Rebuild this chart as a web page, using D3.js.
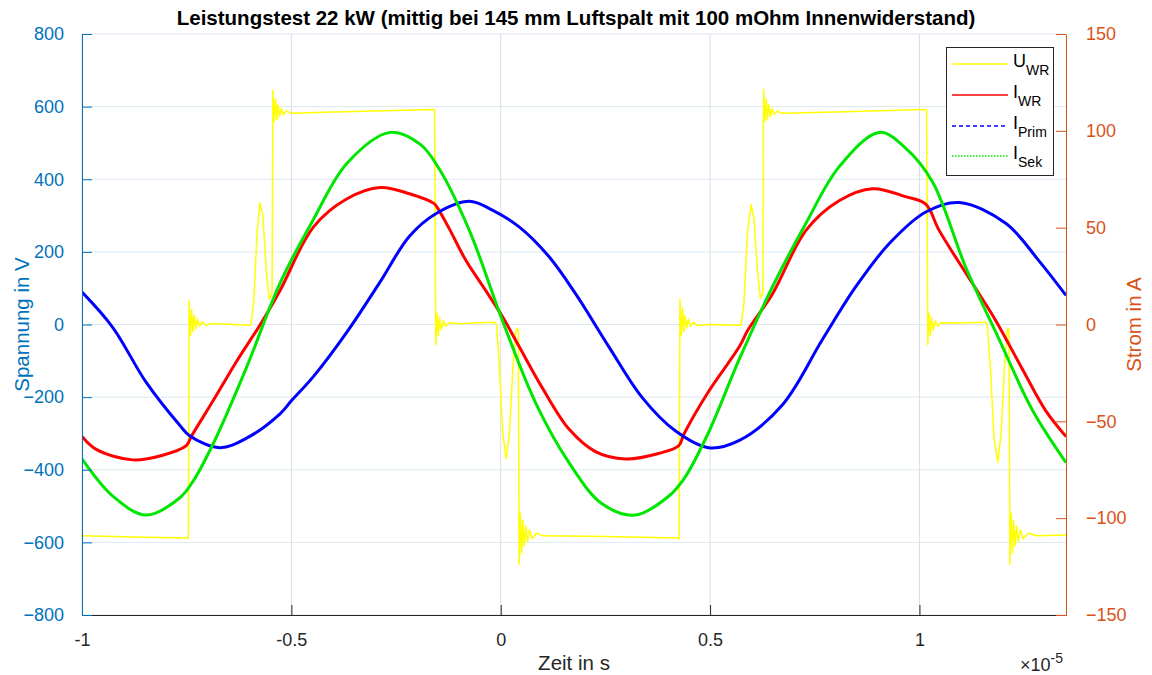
<!DOCTYPE html>
<html><head><meta charset="utf-8">
<script src="https://cdn.jsdelivr.net/npm/d3@7"></script>
<style>body{margin:0;background:#fff;} svg{display:block;font-family:"Liberation Sans",Arial,sans-serif;}</style>
</head><body>
<svg id="c" width="1152" height="675"></svg>
<script>
// ---- data (time in 1e-5 s) ----
const xTicks = [-1, -0.5, 0, 0.5, 1];
const xTickLabels = ["-1", "-0.5", "0", "0.5", "1"];
const yLeftTicks = [-800, -600, -400, -200, 0, 200, 400, 600, 800];
const yRightTicks = [-150, -100, -50, 0, 50, 100, 150];
const legendLabels = [["U","WR"],["I","WR"],["I","Prim"],["I","Sek"]];
const title = "Leistungstest 22 kW (mittig bei 145 mm Luftspalt mit 100 mOhm Innenwiderstand)";

// U_WR in V  [t, V]
const uWR = [
 [-1,-582],[-0.85,-586],[-0.748,-588],
 [-0.746,-588],[-0.744,65],[-0.741,-30],[-0.738,40],[-0.735,-20],[-0.732,25],[-0.728,-12],[-0.724,15],[-0.719,-5],[-0.713,8],[-0.705,-2],[-0.69,3],[-0.60,-2],
 [-0.597,-2],[-0.590,60],[-0.582,250],[-0.575,335],[-0.568,300],[-0.560,150],[-0.553,70],[-0.548,80],
 [-0.546,90],[-0.544,645],[-0.541,560],[-0.538,620],[-0.535,565],[-0.532,605],[-0.528,572],[-0.524,595],[-0.519,578],[-0.512,588],[-0.500,582],[-0.40,585],[-0.30,588],[-0.162,592],
 [-0.158,590],[-0.155,-56],[-0.152,30],[-0.149,-30],[-0.146,20],[-0.142,-15],[-0.137,10],[-0.131,-5],[-0.124,5],[-0.10,2],[-0.05,5],[-0.014,6],
 [-0.010,0],[-0.003,-120],[0.005,-300],[0.013,-370],[0.021,-300],[0.029,-120],[0.036,-20],[0.040,-10],
 [0.042,-20],[0.044,-660],[0.047,-520],[0.050,-630],[0.053,-540],[0.056,-610],[0.060,-555],[0.064,-598],[0.069,-565],[0.075,-590],[0.085,-575],[0.10,-582],[0.25,-584],[0.42,-588],
 [0.426,-590],[0.428,70],[0.431,-30],[0.434,45],[0.437,-20],[0.440,25],[0.444,-10],[0.448,15],[0.453,-5],[0.46,6],[0.47,-3],[0.50,0],[0.57,-2],
 [0.574,-2],[0.581,60],[0.589,250],[0.598,330],[0.605,290],[0.613,150],[0.620,73],[0.624,80],
 [0.626,90],[0.628,648],[0.631,560],[0.634,620],[0.637,565],[0.640,605],[0.644,572],[0.648,595],[0.653,578],[0.66,588],[0.67,582],[0.80,585],[1.013,592],
 [1.017,590],[1.020,-56],[1.023,30],[1.026,-30],[1.029,20],[1.033,-15],[1.038,10],[1.044,-5],[1.05,5],[1.10,4],[1.158,6],
 [1.162,0],[1.170,-130],[1.178,-310],[1.187,-380],[1.195,-300],[1.203,-120],[1.209,-20],[1.212,-10],
 [1.214,-20],[1.216,-660],[1.219,-520],[1.222,-630],[1.225,-540],[1.228,-610],[1.232,-555],[1.236,-598],[1.241,-565],[1.247,-590],[1.26,-575],[1.28,-582],[1.35,-580]
];
// I_WR in A [t, A]
const iWR = [
 [-1,-57.8],[-0.966,-64.5],[-0.879,-69.9],[-0.807,-67.5],[-0.751,-62.6],[-0.739,-57.8],[-0.687,-39.4],[-0.631,-19.1],[-0.571,1.1],[-0.527,17.6],[-0.447,50.4],[-0.367,64.9],[-0.288,70.7],[-0.218,67.5],[-0.159,62.4],[-0.151,60.2],[-0.123,49.5],[-0.083,33.0],[-0.036,17.6],[0.004,4.1],[0.044,-11.4],[0.099,-32.6],[0.163,-54.0],[0.226,-65.6],[0.298,-69.4],[0.377,-66.6],[0.425,-62.6],[0.437,-56.8],[0.496,-34.7],[0.570,-11.4],[0.591,-2.6],[0.649,15.8],[0.729,48.6],[0.808,63.9],[0.888,70.1],[0.967,66.0],[1.015,62.1],[1.047,48.6],[1.126,21.4],[1.182,2.1],[1.246,-23.1],[1.301,-44.3],[1.35,-57.8]
];
// I_Prim in A
const iPrim = [
 [-1,16.7],[-0.926,-1.7],[-0.847,-29.8],[-0.767,-51.9],[-0.743,-57.4],[-0.671,-63.6],[-0.607,-58.7],[-0.527,-46.1],[-0.5,-39.4],[-0.447,-26.8],[-0.367,-3.8],[-0.288,22.0],[-0.218,45.6],[-0.155,57.2],[-0.075,63.6],[-0.02,59.1],[0.044,50.4],[0.115,35.1],[0.179,15.8],[0.258,-11.4],[0.337,-37.5],[0.417,-54.9],[0.496,-63.6],[0.570,-59.8],[0.673,-41.4],[0.769,-7.5],[0.848,19.5],[0.928,41.8],[1.015,58.1],[1.095,63.0],[1.206,52.3],[1.285,33.0],[1.35,15.0]
];
// I_Sek in A
const iSek = [
 [-1,-69.4],[-0.926,-88.7],[-0.847,-98.4],[-0.767,-89.6],[-0.735,-81.0],[-0.687,-61.7],[-0.607,-22.1],[-0.527,21.4],[-0.447,54.4],[-0.367,83.3],[-0.264,99.2],[-0.192,93.0],[-0.147,80.4],[-0.075,48.6],[0.004,2.1],[0.083,-40.3],[0.163,-71.3],[0.242,-92.6],[0.321,-98.4],[0.401,-88.7],[0.440,-78.9],[0.496,-55.9],[0.570,-17.8],[0.649,19.5],[0.729,52.3],[0.808,81.4],[0.904,99.2],[0.967,91.1],[1.031,73.7],[1.111,29.3],[1.190,-7.5],[1.270,-44.3],[1.35,-71.3]
];

// ---- layout ----
const svg = d3.select("#c");
const L = 82, R = 1066, T = 34, B = 615;
const blue = "#0072BD", orange = "#D95319", dark = "#262626";
const FONT = "Liberation Sans, Arial, sans-serif";
const x = d3.scaleLinear().domain([-1, 1.35]).range([L, R]);
const yL = d3.scaleLinear().domain([-800, 800]).range([B, T]);
const yR = d3.scaleLinear().domain([-150, 150]).range([B, T]);

// grid
svg.append("g").selectAll("line").data(yLeftTicks).join("line")
  .attr("x1", L).attr("x2", R).attr("y1", d => yL(d)).attr("y2", d => yL(d))
  .attr("stroke", "#dbe8f2").attr("stroke-width", 1);
svg.append("g").selectAll("line").data(xTicks).join("line")
  .attr("x1", d => x(d)).attr("x2", d => x(d)).attr("y1", T).attr("y2", B)
  .attr("stroke", "#dedede").attr("stroke-width", 1);

// lines
svg.append("clipPath").attr("id","pc").append("rect").attr("x",L).attr("y",T).attr("width",R-L).attr("height",B-T);
const g = svg.append("g").attr("clip-path","url(#pc)");
const lineL = d3.line().x(d => x(d[0])).y(d => yL(d[1]));
const lineR = d3.line().x(d => x(d[0])).y(d => yR(d[1])).curve(d3.curveCatmullRom.alpha(0.5));
g.append("path").attr("d", lineL(uWR)).attr("fill","none").attr("stroke","#ffff00").attr("stroke-width",1.5).attr("stroke-linejoin","round");
g.append("path").attr("d", lineR(iWR)).attr("fill","none").attr("stroke","#ff0000").attr("stroke-width",3);
g.append("path").attr("d", lineR(iPrim)).attr("fill","none").attr("stroke","#0000ff").attr("stroke-width",3);
g.append("path").attr("d", lineR(iSek)).attr("fill","none").attr("stroke","#00e600").attr("stroke-width",3);

// axes
const axB = svg.append("g").attr("transform",`translate(0,${B})`)
  .call(d3.axisBottom(x).tickValues(xTicks).tickFormat((d,i)=>xTickLabels[i]).tickSizeInner(-10).tickSizeOuter(0).tickPadding(18));
axB.select(".domain").attr("stroke", dark);
axB.selectAll(".tick line").attr("stroke", dark);
axB.selectAll("text").attr("fill", dark).attr("font-size", 18).attr("font-family", FONT);

const axLft = svg.append("g").attr("transform",`translate(${L},0)`)
  .call(d3.axisLeft(yL).tickValues(yLeftTicks).tickSizeInner(-10).tickSizeOuter(0).tickPadding(18));
axLft.select(".domain").attr("stroke", blue);
axLft.selectAll(".tick line").attr("stroke", blue);
axLft.selectAll("text").attr("fill", blue).attr("font-size", 18).attr("font-family", FONT);

const axRgt = svg.append("g").attr("transform",`translate(${R},0)`)
  .call(d3.axisRight(yR).tickValues(yRightTicks).tickSizeInner(-10).tickSizeOuter(0).tickPadding(20));
axRgt.select(".domain").attr("stroke", orange);
axRgt.selectAll(".tick line").attr("stroke", orange);
axRgt.selectAll("text").attr("fill", orange).attr("font-size", 18).attr("font-family", FONT);

// labels
svg.append("text").attr("x", 576).attr("y", 25).attr("text-anchor","middle").attr("font-weight","bold")
  .attr("font-size", 20.5).attr("fill","#000").text(title);
svg.append("text").attr("x", (L+R)/2).attr("y", 670).attr("text-anchor","middle").attr("font-size", 20.5).attr("fill", dark).text("Zeit in s");
svg.append("text").attr("transform",`translate(29,${(T+B)/2}) rotate(-90)`).attr("text-anchor","middle").attr("font-size", 20.5).attr("fill", blue).text("Spannung in V");
svg.append("text").attr("transform",`translate(1141,${(T+B)/2}) rotate(-90)`).attr("text-anchor","middle").attr("font-size", 20.5).attr("fill", orange).text("Strom in A");
const ex = svg.append("text").attr("x", 1020).attr("y", 671).attr("font-size", 18).attr("fill", dark);
ex.append("tspan").text("\u00d710");
ex.append("tspan").attr("dy", -8).attr("font-size", 14).text("-5");

// legend
const lg = svg.append("g");
lg.append("rect").attr("x",946.5).attr("y",47.5).attr("width",107).attr("height",128).attr("fill","#fff").attr("stroke",dark).attr("stroke-width",1);
const legColors = ["#ffff00","#ff0000","#0000ff","#00e600"];
const legDash = [null, null, "4,3", "1.5,1.5"];
const legY = [64, 95, 126, 156];
legendLabels.forEach((lab, i) => {
  lg.append("line").attr("x1",952).attr("x2",1008).attr("y1",legY[i]).attr("y2",legY[i])
    .attr("stroke",legColors[i]).attr("stroke-width",1.5).attr("stroke-dasharray",legDash[i]);
  const t = lg.append("text").attr("x",1013).attr("y",legY[i]+3).attr("font-size",18).attr("fill","#000");
  t.append("tspan").text(lab[0]);
  t.append("tspan").attr("dy",8).attr("font-size",14).text(lab[1]);
});
</script>
</body></html>
